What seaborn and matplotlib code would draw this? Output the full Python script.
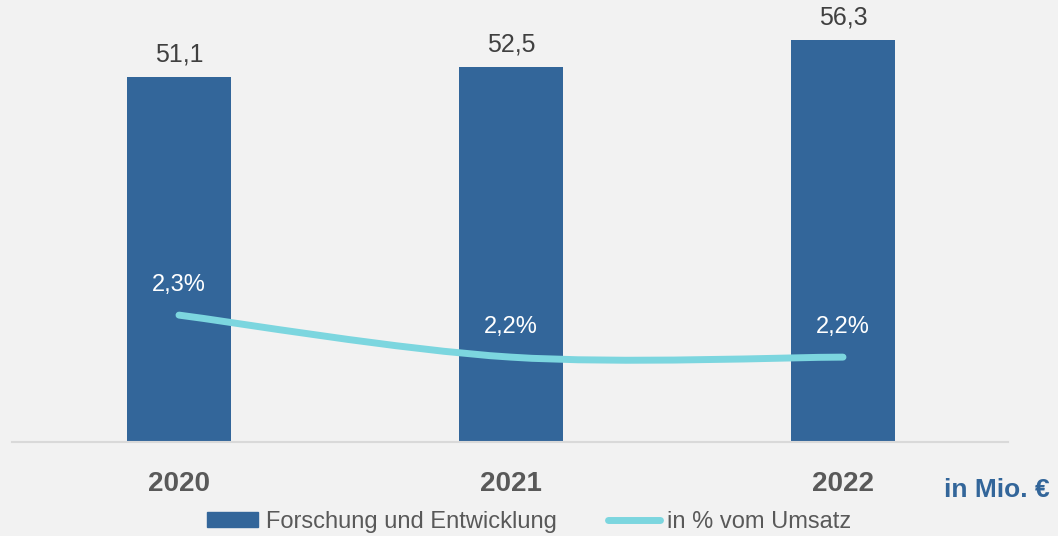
import numpy as np
import pandas as pd
import seaborn as sns
import matplotlib.pyplot as plt
from matplotlib.path import Path
from matplotlib.patches import PathPatch
from matplotlib.lines import Line2D
from matplotlib.patches import Patch

# data
jahre = ["2020", "2021", "2022"]
fue_mio = [51.1, 52.5, 56.3]
pct_umsatz = [2.3, 2.2, 2.2]
fue_labels = ["51,1", "52,5", "56,3"]
pct_labels = ["2,3%", "2,2%", "2,2%"]

bg = "#f2f2f2"
bar_col = "#33669a"
line_col = "#7cd6df"

sns.set_theme(style="white")
plt.rcParams["font.family"] = ["Liberation Sans", "DejaVu Sans"]

fig = plt.figure(figsize=(10.58, 5.36), dpi=100, facecolor=bg)
ax = fig.add_axes([12 / 1058, 1 - 442 / 536, 996 / 1058, 442 / 536])
ax.set_facecolor(bg)

df = pd.DataFrame({"jahr": jahre, "wert": fue_mio})
sns.barplot(data=df, x="jahr", y="wert", color=bar_col, width=0.313,
            saturation=1, linewidth=0, ax=ax)
ax.set_xlim(-0.503, 2.497)
ax.set_ylim(0, 61.9)
for i, v in enumerate(fue_mio):
    ax.text(i, v + 1.5, fue_labels[i], ha="center", va="bottom",
            fontsize=18, color="#404040")

for s in ["top", "left", "right"]:
    ax.spines[s].set_visible(False)
ax.spines["bottom"].set_color("#d9d9d9")
ax.spines["bottom"].set_linewidth(1.5)
ax.set_yticks([])
ax.set_xlabel("")
ax.set_ylabel("")
ax.tick_params(axis="x", length=0, pad=21)
for t in ax.get_xticklabels():
    t.set_fontsize(20)
    t.set_fontweight("bold")
    t.set_color("#595959")

# secondary axis for percentage line, smoothed like the original
ax2 = ax.twinx()
ax2.set_ylim(1.998, 3.05)
ax2.set_yticks([])
for s in ax2.spines.values():
    s.set_visible(False)
xs = np.arange(len(pct_umsatz), dtype=float)
ys = np.array(pct_umsatz)
verts = [(xs[0], ys[0])]
codes = [Path.MOVETO]
for i in range(len(xs) - 1):
    p0 = (xs[max(i - 1, 0)], ys[max(i - 1, 0)])
    p1 = (xs[i], ys[i])
    p2 = (xs[i + 1], ys[i + 1])
    p3 = (xs[min(i + 2, len(xs) - 1)], ys[min(i + 2, len(xs) - 1)])
    c1 = (p1[0] + (p2[0] - p0[0]) / 6, p1[1] + (p2[1] - p0[1]) / 6)
    c2 = (p2[0] - (p3[0] - p1[0]) / 6, p2[1] - (p3[1] - p1[1]) / 6)
    verts += [c1, c2, p2]
    codes += [Path.CURVE4] * 3
ax2.add_patch(PathPatch(Path(verts, codes), facecolor="none",
                        edgecolor=line_col, lw=5, capstyle="round"))
for i, v in enumerate(pct_umsatz):
    ax2.text(i, v + 0.045, pct_labels[i], ha="center", va="bottom",
             fontsize=17, color="white")

fig.text(1050 / 1058, 1 - 490 / 536, "in Mio. €", ha="right", va="center",
         fontsize=19, fontweight="bold", color="#33669a")

handles = [Patch(facecolor=bar_col, edgecolor=bar_col),
           Line2D([0], [0], color=line_col, lw=5, solid_capstyle="round")]
fig.legend(handles, ["Forschung und Entwicklung", "in % vom Umsatz"],
           loc="center", bbox_to_anchor=(0.5, 1 - 522 / 536), ncol=2,
           frameon=False, fontsize=17, handlelength=2.2, handleheight=0.6,
           handletextpad=0.3, columnspacing=2.2, labelcolor="#595959")

fig.savefig("out.png", dpi=100, facecolor=bg)
